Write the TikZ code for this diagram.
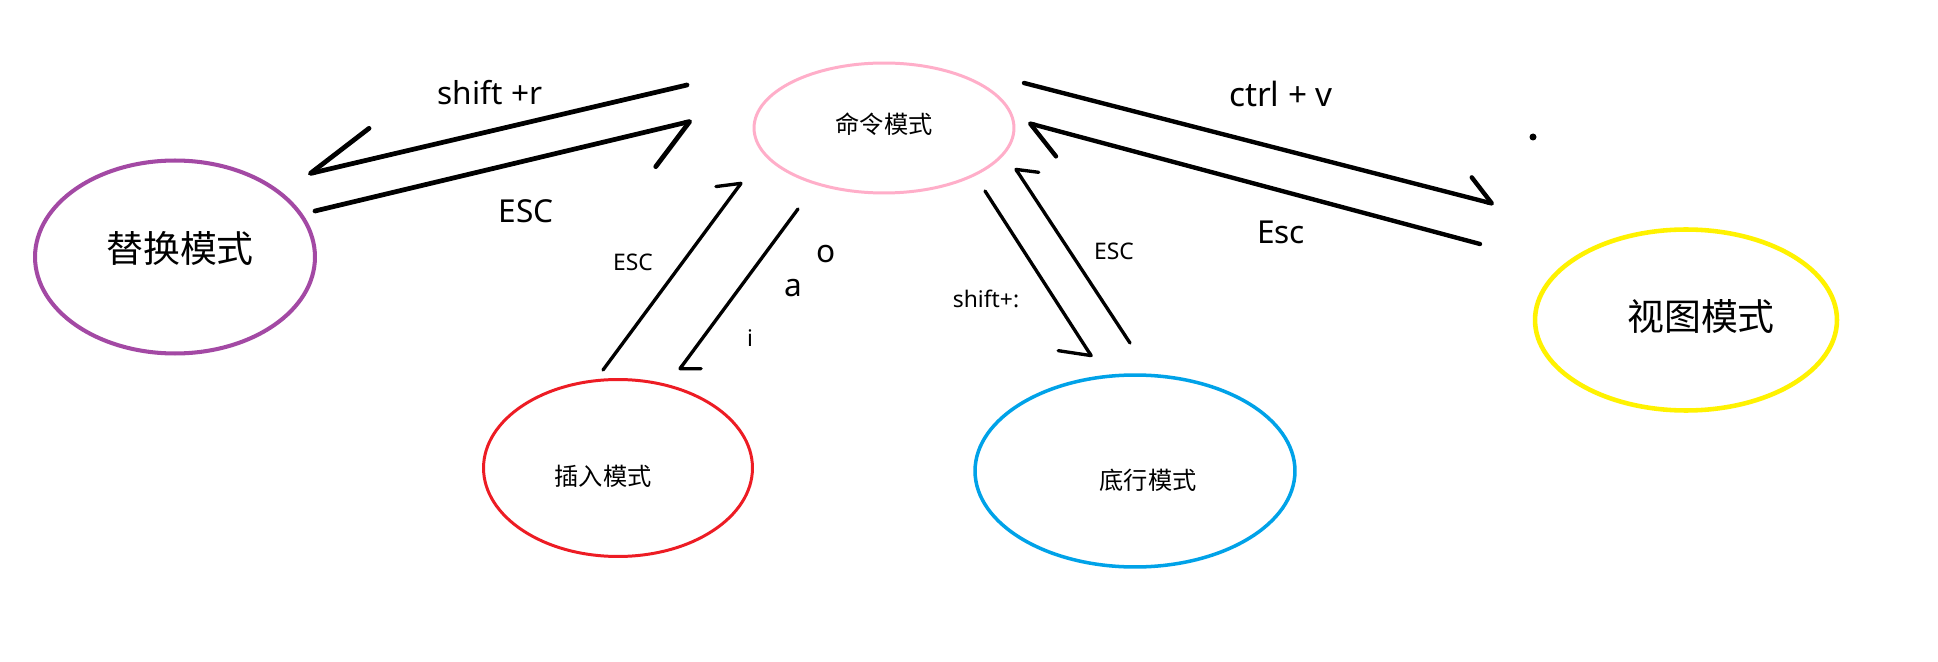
\documentclass[tikz,border=0pt]{standalone}
\usepackage{fontspec}
\setmainfont{Noto Sans}
\newfontfamily\cjk{Noto Sans CJK SC}
\usepackage{tikz}
\usetikzlibrary{shapes.geometric,arrows.meta}
\definecolor{morado}{HTML}{A349A4}
\definecolor{rosa}{HTML}{FFAEC9}
\definecolor{amarillo}{HTML}{FFF200}
\definecolor{rojo}{HTML}{ED1C24}
\definecolor{azul}{HTML}{00A2E8}
\tikzset{
  modo/.style={ellipse,draw,inner sep=0pt},
  modogrande/.style={font=\cjk\fontsize{21}{25}\selectfont,inner sep=0pt},
  modochico/.style={font=\cjk\fontsize{13.8}{16}\selectfont,inner sep=0pt},
  trazo/.style={line width=2.7pt,line cap=round,line join=round},
  trazofino/.style={line width=1.9pt,line cap=round,line join=round},
  flecha/.style n args={3}{-{Straight Barb[#1,length=#2,width=#3,round]}},
  etiqueta/.style={font=\fontsize{18}{21}\selectfont,inner sep=0pt},
  etiquetachica/.style={font=\fontsize{13}{15}\selectfont,inner sep=0pt},
}

\begin{document}
\begin{tikzpicture}[x=0.02cm,y=-0.02cm]
  \fill[white] (0,0) rectangle (1938,662);
  % modos
  \node[modo,draw=rosa,line width=1.7pt,minimum width=5.2cm,minimum height=2.6cm] (comando) at (884,128) {};
  \node[modo,draw=morado,line width=2.3pt,minimum width=5.6cm,minimum height=3.86cm] (reemplazo) at (175,257) {};
  \node[modo,draw=amarillo,line width=2.6pt,minimum width=6.04cm,minimum height=3.62cm] (vista) at (1686,320) {};
  \node[modo,draw=rojo,line width=1.7pt,minimum width=5.38cm,minimum height=3.54cm] (insertar) at (618,468) {};
  \node[modo,draw=azul,line width=2pt,minimum width=6.4cm,minimum height=3.84cm] (inferior) at (1135,471) {};
  \node[modochico] (tcomando) at (884,124) {命令模式};
  \node[modogrande] (treemplazo) at (180,248) {替换模式};
  \node[modogrande] (tvista) at (1701,317) {视图模式};
  \node[modochico] (tinsertar) at (603,476) {插入模式};
  \node[modochico] (tinferior) at (1148,480) {底行模式};
  % extremos de los trazos
  \coordinate (sr-ini) at (687,85);   \coordinate (sr-fin) at (308,174);
  \coordinate (er-ini) at (315,211);  \coordinate (er-fin) at (692,121);
  \coordinate (cv-ini) at (1024,83);  \coordinate (cv-fin) at (1494,204);
  \coordinate (ev-ini) at (1480,244); \coordinate (ev-fin) at (1028,123);
  \coordinate (ei-ini) at (603,370);  \coordinate (ei-fin) at (742,182);
  \coordinate (i-ini) at (798,209);   \coordinate (i-fin) at (679,370);
  \coordinate (sb-ini) at (985,191);  \coordinate (sb-fin) at (1092,357);
  \coordinate (eb-ini) at (1130,343); \coordinate (eb-fin) at (1015,168);
  \draw[trazo,flecha={right}{13.5mm}{12.2mm}] (sr-ini) -- (sr-fin);
  \draw[trazo,flecha={right}{8.7mm}{14.4mm}] (er-ini) -- (er-fin);
  \draw[trazo,line width=2.5pt,flecha={left}{5.2mm}{8.1mm}] (cv-ini) -- (cv-fin);
  \draw[trazo,line width=2.5pt,flecha={left}{6.7mm}{10mm}] (ev-ini) -- (ev-fin);
  \draw[trazofino,flecha={left}{3.5mm}{7.3mm}] (ei-ini) -- (ei-fin);
  \draw[trazofino,flecha={left}{2.5mm}{6.8mm}] (i-ini) -- (i-fin);
  \draw[trazofino,flecha={right}{4.4mm}{10mm}] (sb-ini) -- (sb-fin);
  \draw[trazofino,flecha={right}{3mm}{7mm}] (eb-ini) -- (eb-fin);
  \node[circle,fill,inner sep=0pt,minimum size=1.4mm] (punto) at (1533,137) {};
  % etiquetas
  \node[etiqueta] (lsr) at (490,93) {shift +r};
  \node[etiqueta] (ler) at (526,211) {ESC};
  \node[etiqueta,font=\fontsize{19}{22}\selectfont] (lcv) at (1281,94) {ctrl + v};
  \node[etiqueta] (lev) at (1281,232) {Esc};
  \node[etiquetachica] (lei) at (633,262) {ESC};
  \node[etiqueta] (lo) at (826,254) {o};
  \node[etiqueta] (la) at (793,288) {a};
  \node[etiquetachica] (li) at (750,338) {i};
  \node[etiquetachica] (lsb) at (986,299) {shift+:};
  \node[etiquetachica] (leb) at (1114,251) {ESC};
\end{tikzpicture}
\end{document}
